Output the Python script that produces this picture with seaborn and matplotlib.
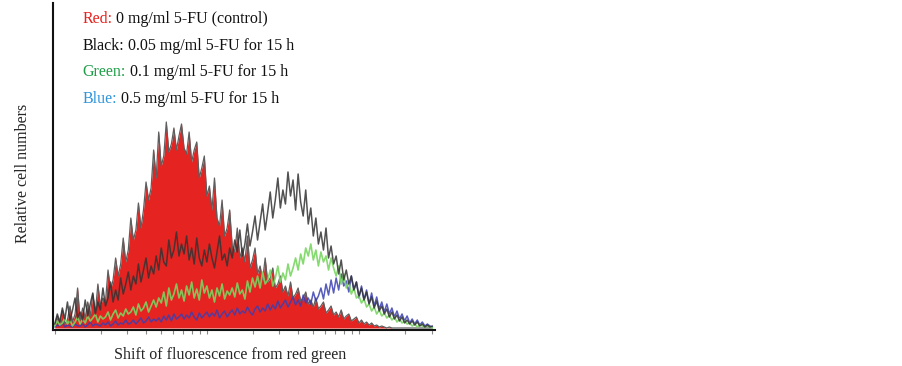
import numpy as np
import pandas as pd
import matplotlib
matplotlib.use("Agg")
import matplotlib.pyplot as plt
import seaborn as sns

# channel index along the log fluorescence axis (60 channels per decade)
channels = np.arange(150)
ch_per_decade = 60

# relative cell numbers, one value per channel
red_ctrl = [3, 12, 5, 18, 4, 8, 22, 6, 14, 40,
            8, 20, 10, 26, 12, 34, 15, 44, 22, 30,
            26, 58, 38, 48, 70, 52, 64, 90, 66, 78,
            110, 88, 98, 125, 100, 118, 146, 128, 140, 178,
            150, 196, 162, 172, 206, 176, 184, 200, 178, 192,
            204, 180, 174, 196, 166, 178, 186, 150, 160, 172,
            132, 142, 118, 150, 110, 102, 128, 92, 100, 118,
            82, 76, 100, 70, 80, 66, 92, 60, 68, 80,
            54, 62, 48, 70, 46, 50, 60, 40, 44, 52,
            36, 42, 32, 46, 30, 34, 40, 27, 30, 36,
            24, 28, 21, 30, 19, 22, 26, 15, 18, 22,
            13, 16, 11, 18, 9, 12, 14, 7, 9, 11,
            5, 8, 4, 6, 3, 5, 2, 3, 1, 2,
            1, 0, 1, 0, 0, 0, 0, 0, 0, 0,
            0, 0, 0, 0, 0, 0, 0, 0, 0, 0]

black_005 = [4, 14, 6, 20, 9, 26, 7, 18, 30, 10,
             16, 8, 28, 12, 24, 35, 14, 26, 18, 40,
             22, 30, 46, 26, 38, 28, 50, 34, 44, 56,
             38, 52, 44, 64, 46, 58, 70, 50, 62, 54,
             72, 58, 80, 66, 62, 88, 70, 78, 96, 72,
             84, 74, 92, 68, 80, 64, 90, 70, 62, 78,
             66, 84, 70, 60, 76, 92, 68, 74, 62, 80,
             70, 88, 76, 98, 72, 84, 104, 82, 96, 112,
             88, 106, 124, 98, 116, 136, 110, 128, 150, 120,
             138, 124, 156, 132, 148, 118, 154, 126, 112, 138,
             104, 120, 92, 110, 84, 96, 78, 100, 70, 82,
             64, 72, 54, 68, 48, 58, 44, 52, 38, 46,
             32, 40, 28, 36, 24, 31, 20, 27, 17, 22,
             14, 19, 11, 16, 9, 13, 7, 11, 5, 8,
             4, 7, 3, 6, 2, 4, 1, 3, 1, 2]

green_01 = [2, 7, 3, 5, 10, 4, 8, 2, 6, 11,
            4, 9, 5, 12, 7, 10, 14, 6, 12, 9,
            11, 16, 8, 14, 18, 10, 15, 12, 19, 14,
            16, 21, 13, 24, 17, 20, 26, 16, 22, 28,
            21, 30, 25, 36, 22, 40, 28, 34, 44, 30,
            38, 27, 42, 33, 46, 30, 39, 28, 48, 35,
            42, 30, 38, 26, 40, 32, 44, 29, 37, 33,
            40, 31, 45, 34, 38, 29, 47, 36, 50, 41,
            52, 40, 56, 44, 48, 58, 42, 50, 62, 46,
            55, 48, 64, 52, 60, 70, 58, 74, 64, 80,
            72, 84, 68, 78, 62, 76, 66, 72, 58, 70,
            60, 52, 62, 44, 54, 40, 46, 34, 40, 30,
            32, 25, 29, 21, 24, 17, 21, 14, 18, 12,
            15, 10, 13, 8, 11, 6, 9, 5, 7, 4,
            5, 2, 4, 1, 3, 2, 1, 2, 1, 0]

blue_05 = [1, 3, 2, 5, 1, 3, 2, 1, 4, 2,
           2, 4, 1, 3, 6, 2, 4, 3, 2, 5,
           3, 6, 2, 4, 7, 3, 5, 4, 8, 4,
           5, 8, 4, 7, 10, 5, 7, 11, 6, 9,
           7, 10, 6, 12, 8, 13, 7, 14, 9, 11,
           14, 9, 13, 10, 16, 11, 8, 15, 10, 13,
           16, 11, 15, 12, 18, 10, 14, 17, 11, 15,
           18, 13, 20, 14, 17, 15, 21, 16, 13, 19,
           22, 16, 20, 17, 24, 18, 23, 19, 27, 20,
           24, 28, 21, 26, 31, 23, 28, 22, 33, 25,
           30, 24, 36, 27, 32, 40, 29, 44, 33, 48,
           35, 50, 38, 54, 42, 47, 36, 52, 38, 46,
           30, 42, 28, 38, 24, 35, 22, 31, 19, 26,
           16, 24, 14, 20, 11, 17, 9, 14, 7, 12,
           5, 9, 4, 8, 3, 6, 2, 4, 2, 1]

legend_keys = ["Red:", "Black:", "Green:", "Blue:"]
legend_rest = [" 0 mg/ml 5-FU (control)", " 0.05 mg/ml 5-FU for 15 h",
               " 0.1 mg/ml 5-FU for 15 h", " 0.5 mg/ml 5-FU for 15 h"]
legend_colors = ["#e8211d", "#111111", "#1f9e48", "#2f95dc"]

tick_values = [1, 2, 3, 4, 5, 6, 7, 8, 9, 10, 20, 30, 40, 50, 60, 70, 80, 90,
               100, 200, 300]

df = pd.DataFrame({"channel": channels, "red": red_ctrl, "black": black_005,
                   "green": green_01, "blue": blue_05})

sns.set_style("white")
plt.rcParams["font.family"] = ["Liberation Serif", "DejaVu Serif"]

fig = plt.figure(figsize=(9.03, 3.66), dpi=100)
ax = fig.add_axes([53 / 903, 36 / 366, 382 / 903, 327 / 366])

ax.fill_between(df["channel"], 0, df["red"], color="#e52421", lw=0, zorder=1)
sns.lineplot(data=df, x="channel", y="red", color="#5e5e5e", lw=0.9, ax=ax, zorder=2)
sns.lineplot(data=df, x="channel", y="blue", color="#3a3fb2", lw=1.1, alpha=0.85, ax=ax, zorder=3)
sns.lineplot(data=df, x="channel", y="green", color="#78d660", lw=1.2, alpha=0.9, ax=ax, zorder=4)
sns.lineplot(data=df, x="channel", y="black", color="#333333", lw=1.1, alpha=0.85, ax=ax, zorder=5)

ax.set_xlim(-0.7, 150)
ax.set_ylim(-2, 325)
ax.set_xticks([ch_per_decade * np.log10(v) for v in tick_values])
ax.set_xticklabels([])
ax.set_yticks([])
ax.tick_params(axis="x", bottom=True, length=3, width=0.8, color="#888888", direction="out")
for side in ["top", "right"]:
    ax.spines[side].set_visible(False)
for side in ["left", "bottom"]:
    ax.spines[side].set_color("#111111")
    ax.spines[side].set_linewidth(1.5)

ax.set_xlabel("Shift of fluorescence from red green", fontsize=11.5)
ax.xaxis.set_label_coords(0.463, -0.052)
ax.set_ylabel("Relative cell numbers", fontsize=11.5)
ax.yaxis.set_label_coords(-0.058, 0.48)

# coloured legend lines at the top left
renderer = fig.canvas.get_renderer()
for i, (key, rest, col) in enumerate(zip(legend_keys, legend_rest, legend_colors)):
    ypos = 1 - (23 + 26.7 * i) / 366
    t = fig.text(82.5 / 903, ypos, key, color=col, fontsize=11.5, va="baseline", ha="left")
    x_end = t.get_window_extent(renderer).x1 / fig.bbox.width
    fig.text(x_end, ypos, rest, color="#111111", fontsize=11.5, va="baseline", ha="left")

fig.savefig("out.png", dpi=100)
